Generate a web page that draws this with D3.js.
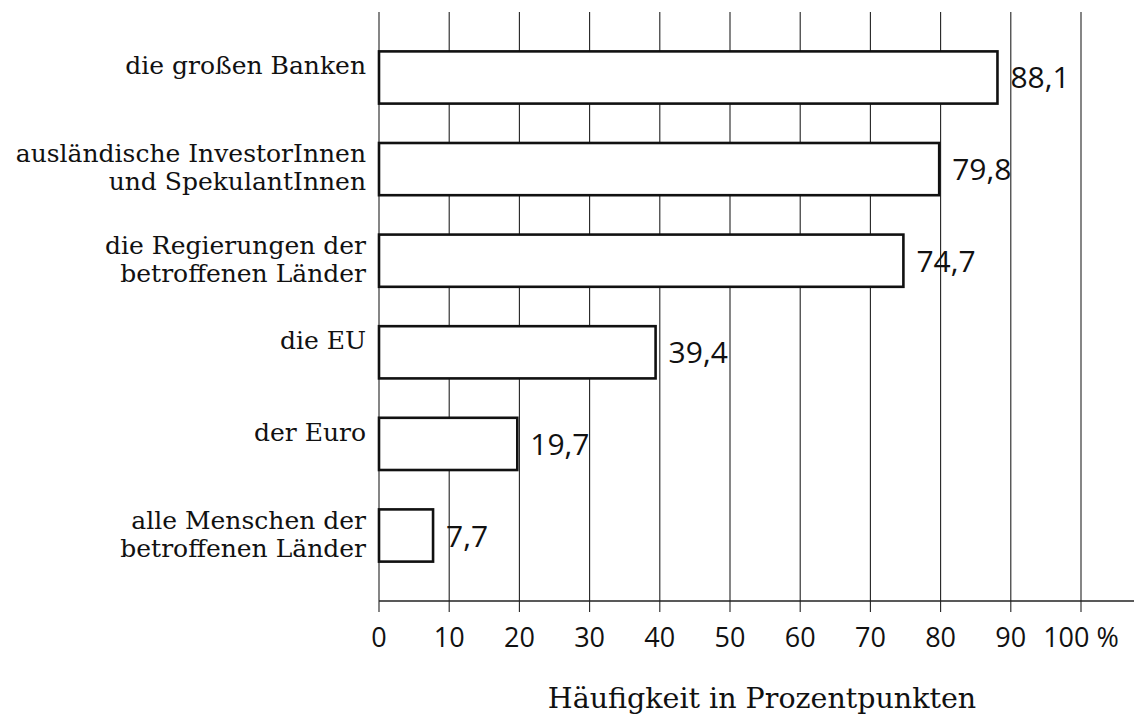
<!DOCTYPE html>
<html>
<head>
<meta charset="utf-8">
<script src="https://cdn.jsdelivr.net/npm/d3@7"></script>
<style>
  html, body { margin: 0; padding: 0; background: #fff; }
  svg { display: block; }
</style>
</head>
<body>
<svg id="chart" width="1134" height="719"></svg>
<script>
// ---- data ----
const categories = [
  "die großen Banken",
  "ausländische InvestorInnen\nund SpekulantInnen",
  "die Regierungen der\nbetroffenen Länder",
  "die EU",
  "der Euro",
  "alle Menschen der\nbetroffenen Länder"
];
const values = [88.1, 79.8, 74.7, 39.4, 19.7, 7.7];
const valueLabels = ["88,1", "79,8", "74,7", "39,4", "19,7", "7,7"];
const tickValues = [0, 10, 20, 30, 40, 50, 60, 70, 80, 90, 100];
const tickLabels = ["0", "10", "20", "30", "40", "50", "60", "70", "80", "90", "100 %"];
const axisTitle = "Häufigkeit in Prozentpunkten";

// ---- layout ----
const svg = d3.select("#chart");
const gridTop = 12, axisY = 601, tickBottom = 612;
const x = d3.scaleLinear().domain([0, 100]).range([379, 1081]);
const y = d3.scaleBand().domain(categories).range([gridTop, axisY])
  .paddingInner(0.43).paddingOuter(0.43);

const serif = "'DejaVu Serif', serif";
const sans = "'Open Sans', 'DejaVu Sans', sans-serif";

// gridlines
svg.append("g").selectAll("line").data(tickValues).join("line")
  .attr("x1", d => x(d)).attr("x2", d => x(d))
  .attr("y1", gridTop).attr("y2", tickBottom)
  .attr("stroke", "#222").attr("stroke-width", 1.1);

// axis line
svg.append("line")
  .attr("x1", x(0)).attr("x2", 1134)
  .attr("y1", axisY).attr("y2", axisY)
  .attr("stroke", "#222").attr("stroke-width", 1.3);

// tick labels
svg.append("g").selectAll("text").data(tickValues).join("text")
  .attr("x", d => x(d)).attr("y", 647)
  .attr("text-anchor", "middle")
  .attr("font-family", sans).attr("font-size", 27)
  .attr("fill", "#111")
  .text((d, i) => tickLabels[i]);

// bars
svg.append("g").selectAll("rect").data(values).join("rect")
  .attr("x", x(0))
  .attr("y", (d, i) => y(categories[i]))
  .attr("width", d => x(d) - x(0))
  .attr("height", y.bandwidth())
  .attr("fill", "#fff")
  .attr("stroke", "#111").attr("stroke-width", 2.6);

// value labels
svg.append("g").selectAll("text").data(values).join("text")
  .attr("x", d => x(d) + 13)
  .attr("y", (d, i) => y(categories[i]) + y.bandwidth() / 2 + 11)
  .attr("font-family", sans).attr("font-size", 30)
  .attr("fill", "#111")
  .text((d, i) => valueLabels[i]);

// category labels
const catG = svg.append("g");
categories.forEach((c, i) => {
  const lines = c.split("\n");
  const cy = y(c) + y.bandwidth() / 2;
  const t = catG.append("text")
    .attr("text-anchor", "end")
    .attr("font-family", serif).attr("font-size", 25)
    .attr("fill", "#111");
  const startY = lines.length === 1 ? cy - 3 : cy - 7;
  lines.forEach((l, j) => {
    t.append("tspan").attr("x", 366).attr("y", startY + j * 28).text(l);
  });
});

// axis title
svg.append("text")
  .attr("x", 762).attr("y", 708)
  .attr("text-anchor", "middle")
  .attr("font-family", serif).attr("font-size", 28.5)
  .attr("fill", "#111")
  .text(axisTitle);
</script>
</body>
</html>
